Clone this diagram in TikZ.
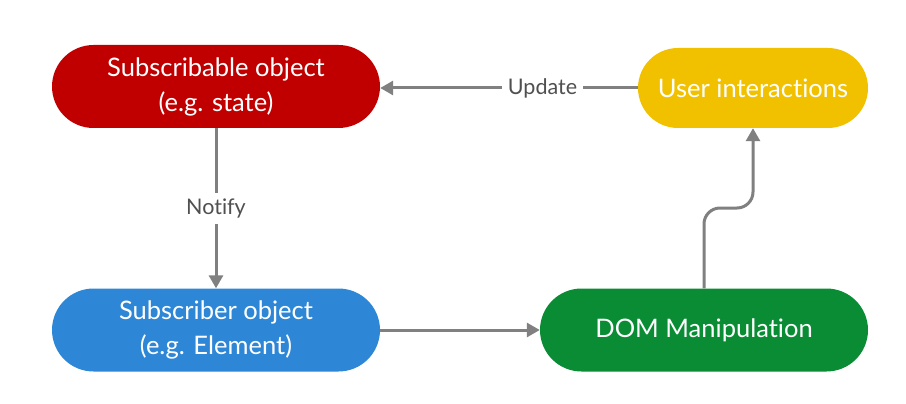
\documentclass[tikz,border=0pt]{standalone}
\usepackage{fontspec}
\setmainfont{Lato}[Ligatures={NoCommon,NoRare}]
\usetikzlibrary{arrows.meta}
\definecolor{cred}{HTML}{C00000}
\definecolor{cyel}{HTML}{F1C100}
\definecolor{cblue}{HTML}{2D87D6}
\definecolor{cgreen}{HTML}{098C34}
\definecolor{cline}{HTML}{808080}
\definecolor{clabel}{HTML}{505050}
\begin{document}
\begin{tikzpicture}[x=1pt,y=-1pt,
  pill/.style={draw=none, rounded corners=41.5pt, minimum height=83pt, text=white,
    font=\fontsize{25.5}{35}\selectfont, align=center, inner sep=0pt},
  conn/.style={draw=cline, line width=3pt, -{Triangle[length=13pt,width=14pt]}},
  lbl/.style={fill=white, text=clabel, font=\fontsize{21.5}{24}\selectfont, inner sep=6pt}]
\useasboundingbox (0,0) rectangle (906,404);
\node[pill, fill=cred, minimum width=328pt] (sub) at (216,86.5) {Subscribable object\\(e.g. state)};
\node[pill, fill=cyel, minimum width=230pt, minimum height=80pt, rounded corners=40pt] (user) at (753,88) {User interactions};
\node[pill, fill=cblue, minimum width=328pt] (ser) at (216,330) {Subscriber object\\(e.g. Element)};
\node[pill, fill=cgreen, minimum width=328pt] (dom) at (704,330) {DOM Manipulation};
\draw[conn] (user.west) -- node[lbl, pos=0.37] {Update} (user.west -| sub.east);
\draw[conn] (sub.south) -- node[lbl] {Notify} (ser.north);
\draw[conn] (ser.east) -- (dom.west);
\coordinate (c1) at (704,208);
\coordinate (c2) at (753,208);
\draw[conn, rounded corners=16pt] (dom.north) -- (c1) -- (c2) -- (user.south -| c2);
\end{tikzpicture}
\end{document}
